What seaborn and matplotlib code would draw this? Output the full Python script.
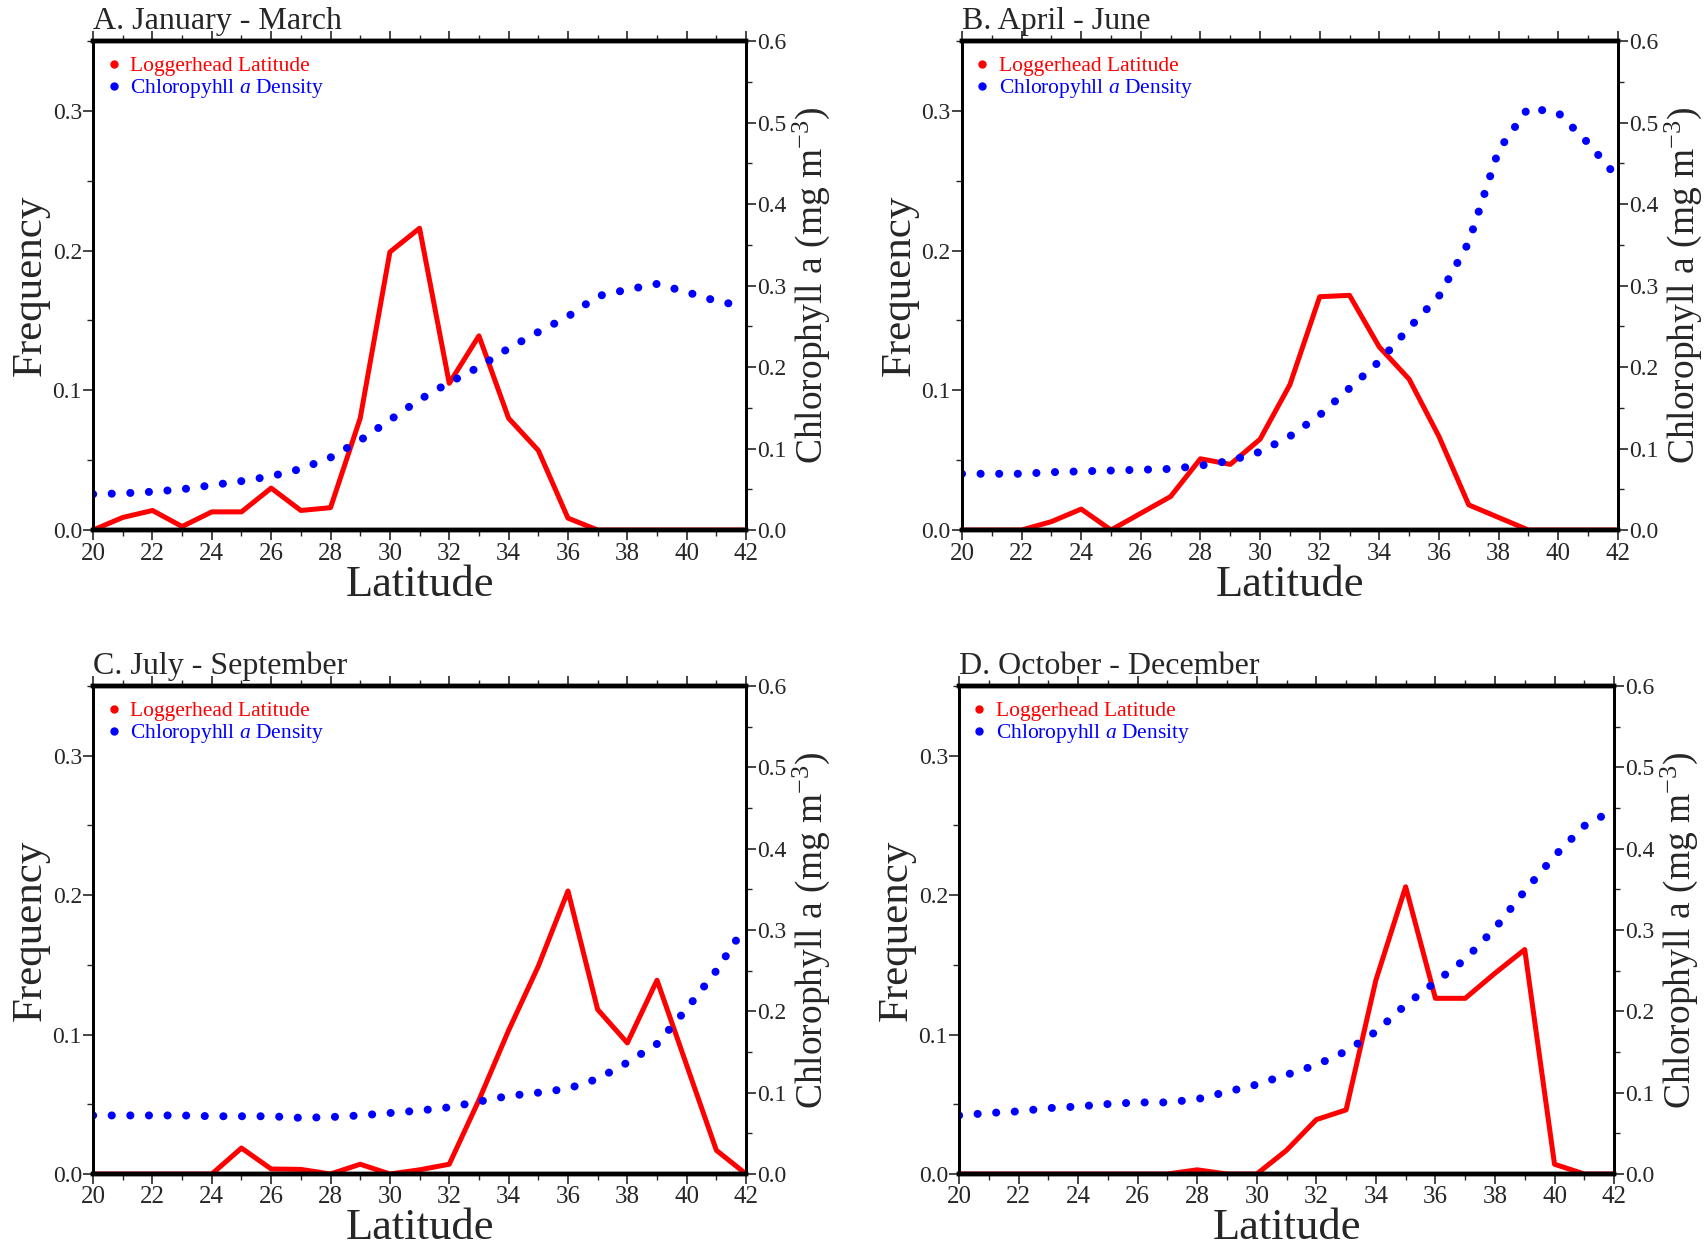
import matplotlib
matplotlib.use("Agg")
import matplotlib.pyplot as plt
import seaborn as sns
from matplotlib.lines import Line2D
from matplotlib.ticker import MultipleLocator, FormatStrFormatter

# latitude bins (degrees N)
lat = list(range(20, 43))

# loggerhead frequency per latitude, by quarter
freq_a = [0.0, 0.009, 0.014, 0.0025, 0.013, 0.013, 0.030, 0.014, 0.016, 0.080, 0.199, 0.216,
          0.105, 0.139, 0.080, 0.057, 0.0085, 0.0, 0.0, 0.0, 0.0, 0.0, 0.0]
freq_b = [0.0, 0.0, 0.0, 0.006, 0.015, 0.0, 0.012, 0.024, 0.051, 0.047, 0.065, 0.104,
          0.167, 0.168, 0.131, 0.108, 0.067, 0.018, 0.009, 0.0, 0.0, 0.0, 0.0]
freq_c = [0.0, 0.0, 0.0, 0.0, 0.0, 0.0186, 0.0036, 0.0033, 0.0, 0.007, 0.0, 0.003,
          0.007, 0.053, 0.103, 0.149, 0.203, 0.118, 0.094, 0.139, 0.078, 0.017, 0.0]
freq_d = [0.0, 0.0, 0.0, 0.0, 0.0, 0.0, 0.0, 0.0, 0.003, 0.0, 0.0, 0.017,
          0.039, 0.046, 0.139, 0.206, 0.126, 0.126, 0.144, 0.161, 0.007, 0.0, 0.0]

# chlorophyll a density (mg m-3) per latitude, by quarter
chl_a = [0.044, 0.045, 0.047, 0.050, 0.055, 0.060, 0.066, 0.075, 0.089, 0.110, 0.135, 0.160,
         0.181, 0.200, 0.223, 0.243, 0.262, 0.287, 0.295, 0.302, 0.292, 0.281, 0.274]
chl_b = [0.069, 0.069, 0.069, 0.071, 0.072, 0.073, 0.074, 0.075, 0.079, 0.085, 0.096, 0.115,
         0.141, 0.174, 0.207, 0.248, 0.287, 0.353, 0.466, 0.518, 0.512, 0.475, 0.432]
chl_c = [0.072, 0.072, 0.072, 0.072, 0.071, 0.071, 0.071, 0.069, 0.070, 0.072, 0.075, 0.078,
         0.082, 0.089, 0.096, 0.100, 0.105, 0.117, 0.137, 0.160, 0.203, 0.250, 0.306]
chl_d = [0.072, 0.075, 0.077, 0.081, 0.083, 0.086, 0.088, 0.088, 0.092, 0.101, 0.110, 0.122,
         0.134, 0.151, 0.175, 0.208, 0.236, 0.264, 0.302, 0.348, 0.391, 0.428, 0.448]

titles = ["A. January - March", "B. April - June", "C. July - September", "D. October - December"]
freqs = [freq_a, freq_b, freq_c, freq_d]
chls = [chl_a, chl_b, chl_c, chl_d]

sns.set_theme(style="ticks")
plt.rcParams['font.family'] = ['Liberation Serif', 'DejaVu Serif']
plt.rcParams['mathtext.fontset'] = 'custom'
plt.rcParams['mathtext.rm'] = 'Liberation Serif'
plt.rcParams['mathtext.it'] = 'Liberation Serif:italic'

fig = plt.figure(figsize=(17.08, 12.48), dpi=100)
boxes = [[0.0545, 0.5753, 0.3823, 0.3918],
         [0.5632, 0.5753, 0.3840, 0.3918],
         [0.0545, 0.0593, 0.3823, 0.3910],
         [0.5615, 0.0593, 0.3835, 0.3910]]

for i in range(4):
    ax = fig.add_axes(boxes[i])
    ax2 = ax.twinx()
    sns.lineplot(x=lat, y=freqs[i], ax=ax, color='#ff0000', linewidth=3.6)
    sns.lineplot(x=lat, y=chls[i], ax=ax2, color='#0000ff', linewidth=5.8,
                 linestyle=(0, (0.01, 2.3)), dash_capstyle='round')

    ax.set_xlim(20, 42)
    ax.set_ylim(0, 0.35)
    ax2.set_ylim(0, 0.6)

    ax.xaxis.set_major_locator(MultipleLocator(2))
    ax.xaxis.set_minor_locator(MultipleLocator(1))
    ax.yaxis.set_major_locator(MultipleLocator(0.1))
    ax.yaxis.set_minor_locator(MultipleLocator(0.05))
    ax.yaxis.set_major_formatter(FormatStrFormatter('%.1f'))
    ax2.yaxis.set_major_locator(MultipleLocator(0.1))
    ax2.yaxis.set_minor_locator(MultipleLocator(0.05))
    ax2.yaxis.set_major_formatter(FormatStrFormatter('%.1f'))

    ax.tick_params(axis='x', which='both', top=True, bottom=True, direction='out',
                   labelsize=18, pad=2)
    ax.tick_params(axis='x', which='major', length=7, width=1.2)
    ax.tick_params(axis='x', which='minor', length=4, width=1.0)
    ax.tick_params(axis='y', which='major', length=7, width=1.2, labelsize=17, pad=1)
    ax.tick_params(axis='y', which='minor', length=4, width=1.0)
    ax2.tick_params(axis='y', which='major', length=7, width=1.2, labelsize=17, pad=1)
    ax2.tick_params(axis='y', which='minor', length=4, width=1.0)

    for a in (ax, ax2):
        a.spines['top'].set_linewidth(3.2)
        a.spines['bottom'].set_linewidth(3.2)
        a.spines['left'].set_linewidth(2)
        a.spines['right'].set_linewidth(2)
        for s in a.spines.values():
            s.set_color('black')
            s.set_visible(True)

    ax.set_xlabel("Latitude", fontsize=32, labelpad=0)
    ax.set_ylabel("Frequency", fontsize=31, labelpad=2)
    ax2.set_ylabel("Chlorophyll a (mg m$^{-3}$)", fontsize=27, labelpad=3)
    ax.set_title(titles[i], loc='left', fontsize=23, pad=9)

    handles = [Line2D([], [], color='#ff0000', marker='o', linestyle='none', markersize=5),
               Line2D([], [], color='#0000ff', marker='o', linestyle='none', markersize=5)]
    ax2.legend(handles, ["Loggerhead Latitude", "Chloropyhll $\\it{a}$ Density"],
               loc='upper left', frameon=False, fontsize=15.5, handlelength=0.5,
               handletextpad=0.5, labelspacing=0.05, borderaxespad=0.3,
               bbox_to_anchor=(0.0, 1.0), labelcolor=['#ff0000', '#0000ff'])

fig.savefig("out.png", dpi=100)
